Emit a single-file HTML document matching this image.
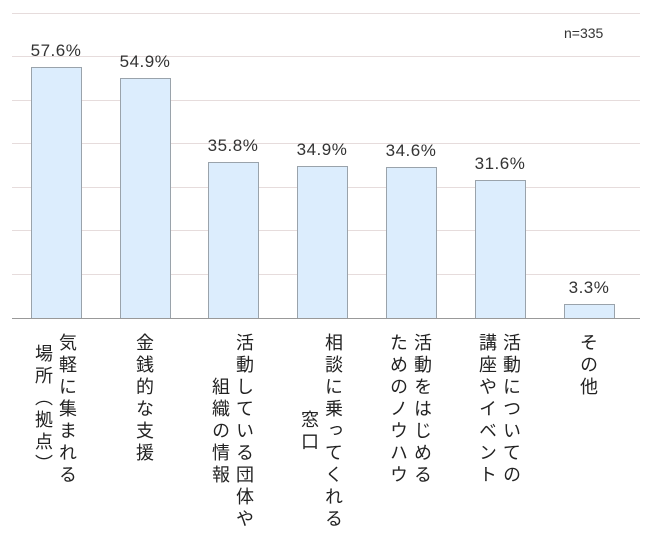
<!DOCTYPE html>
<html><head><meta charset="utf-8"><style>
body{margin:0;width:654px;height:548px;background:#fff;position:relative;overflow:hidden;font-family:"Liberation Sans","Noto Sans CJK JP",sans-serif;}
.g{position:absolute;left:12px;width:628px;height:1px;background:#e6dcdc}
.bar{position:absolute;width:49px;background:#dcedfd;border:1px solid #9aa3ab;border-bottom:none}
.v{position:absolute;width:90px;text-align:center;font-size:17px;color:#333;letter-spacing:0.5px}
.lab{position:absolute;top:333px;writing-mode:vertical-rl;text-orientation:upright;font-size:18px;line-height:24px;letter-spacing:4px;color:#222;text-align:center;font-family:"Noto Sans CJK JP",sans-serif;white-space:nowrap}
</style></head><body>
<div class="g" style="top:13px"></div>
<div class="g" style="top:56px"></div>
<div class="g" style="top:100px"></div>
<div class="g" style="top:143px"></div>
<div class="g" style="top:187px"></div>
<div class="g" style="top:230px"></div>
<div class="g" style="top:274px"></div>
<div style="position:absolute;left:564px;top:25px;font-size:14px;color:#333">n=335</div>

<div class="bar" style="left:31px;top:67px;height:251px"></div>
<div class="bar" style="left:120px;top:78px;height:240px"></div>
<div class="bar" style="left:208px;top:162px;height:156px"></div>
<div class="bar" style="left:297px;top:166px;height:152px"></div>
<div class="bar" style="left:386px;top:167px;height:151px"></div>
<div class="bar" style="left:475px;top:180px;height:138px"></div>
<div class="bar" style="left:564px;top:304px;height:14px"></div>
<div class="g" style="top:318px;height:1px;background:#999"></div>

<div class="v" style="left:11px;top:41px">57.6%</div>
<div class="v" style="left:100px;top:52px">54.9%</div>
<div class="v" style="left:188px;top:136px">35.8%</div>
<div class="v" style="left:277px;top:140px">34.9%</div>
<div class="v" style="left:366px;top:141px">34.6%</div>
<div class="v" style="left:455px;top:154px">31.6%</div>
<div class="v" style="left:544px;top:278px">3.3%</div>

<div class="lab" style="left:32px;width:48px">気軽に集まれる<br>場所（拠点）</div>
<div class="lab" style="left:133px;width:24px">金銭的な支援</div>
<div class="lab" style="left:209px;width:48px">活動している団体や<br>組織の情報</div>
<div class="lab" style="left:298px;width:48px">相談に乗ってくれる<br>窓口</div>
<div class="lab" style="left:387px;width:48px">活動をはじめる<br>ためのノウハウ</div>
<div class="lab" style="left:476px;width:48px">活動についての<br>講座やイベント</div>
<div class="lab" style="left:577px;width:24px">その他</div>
</body></html>
